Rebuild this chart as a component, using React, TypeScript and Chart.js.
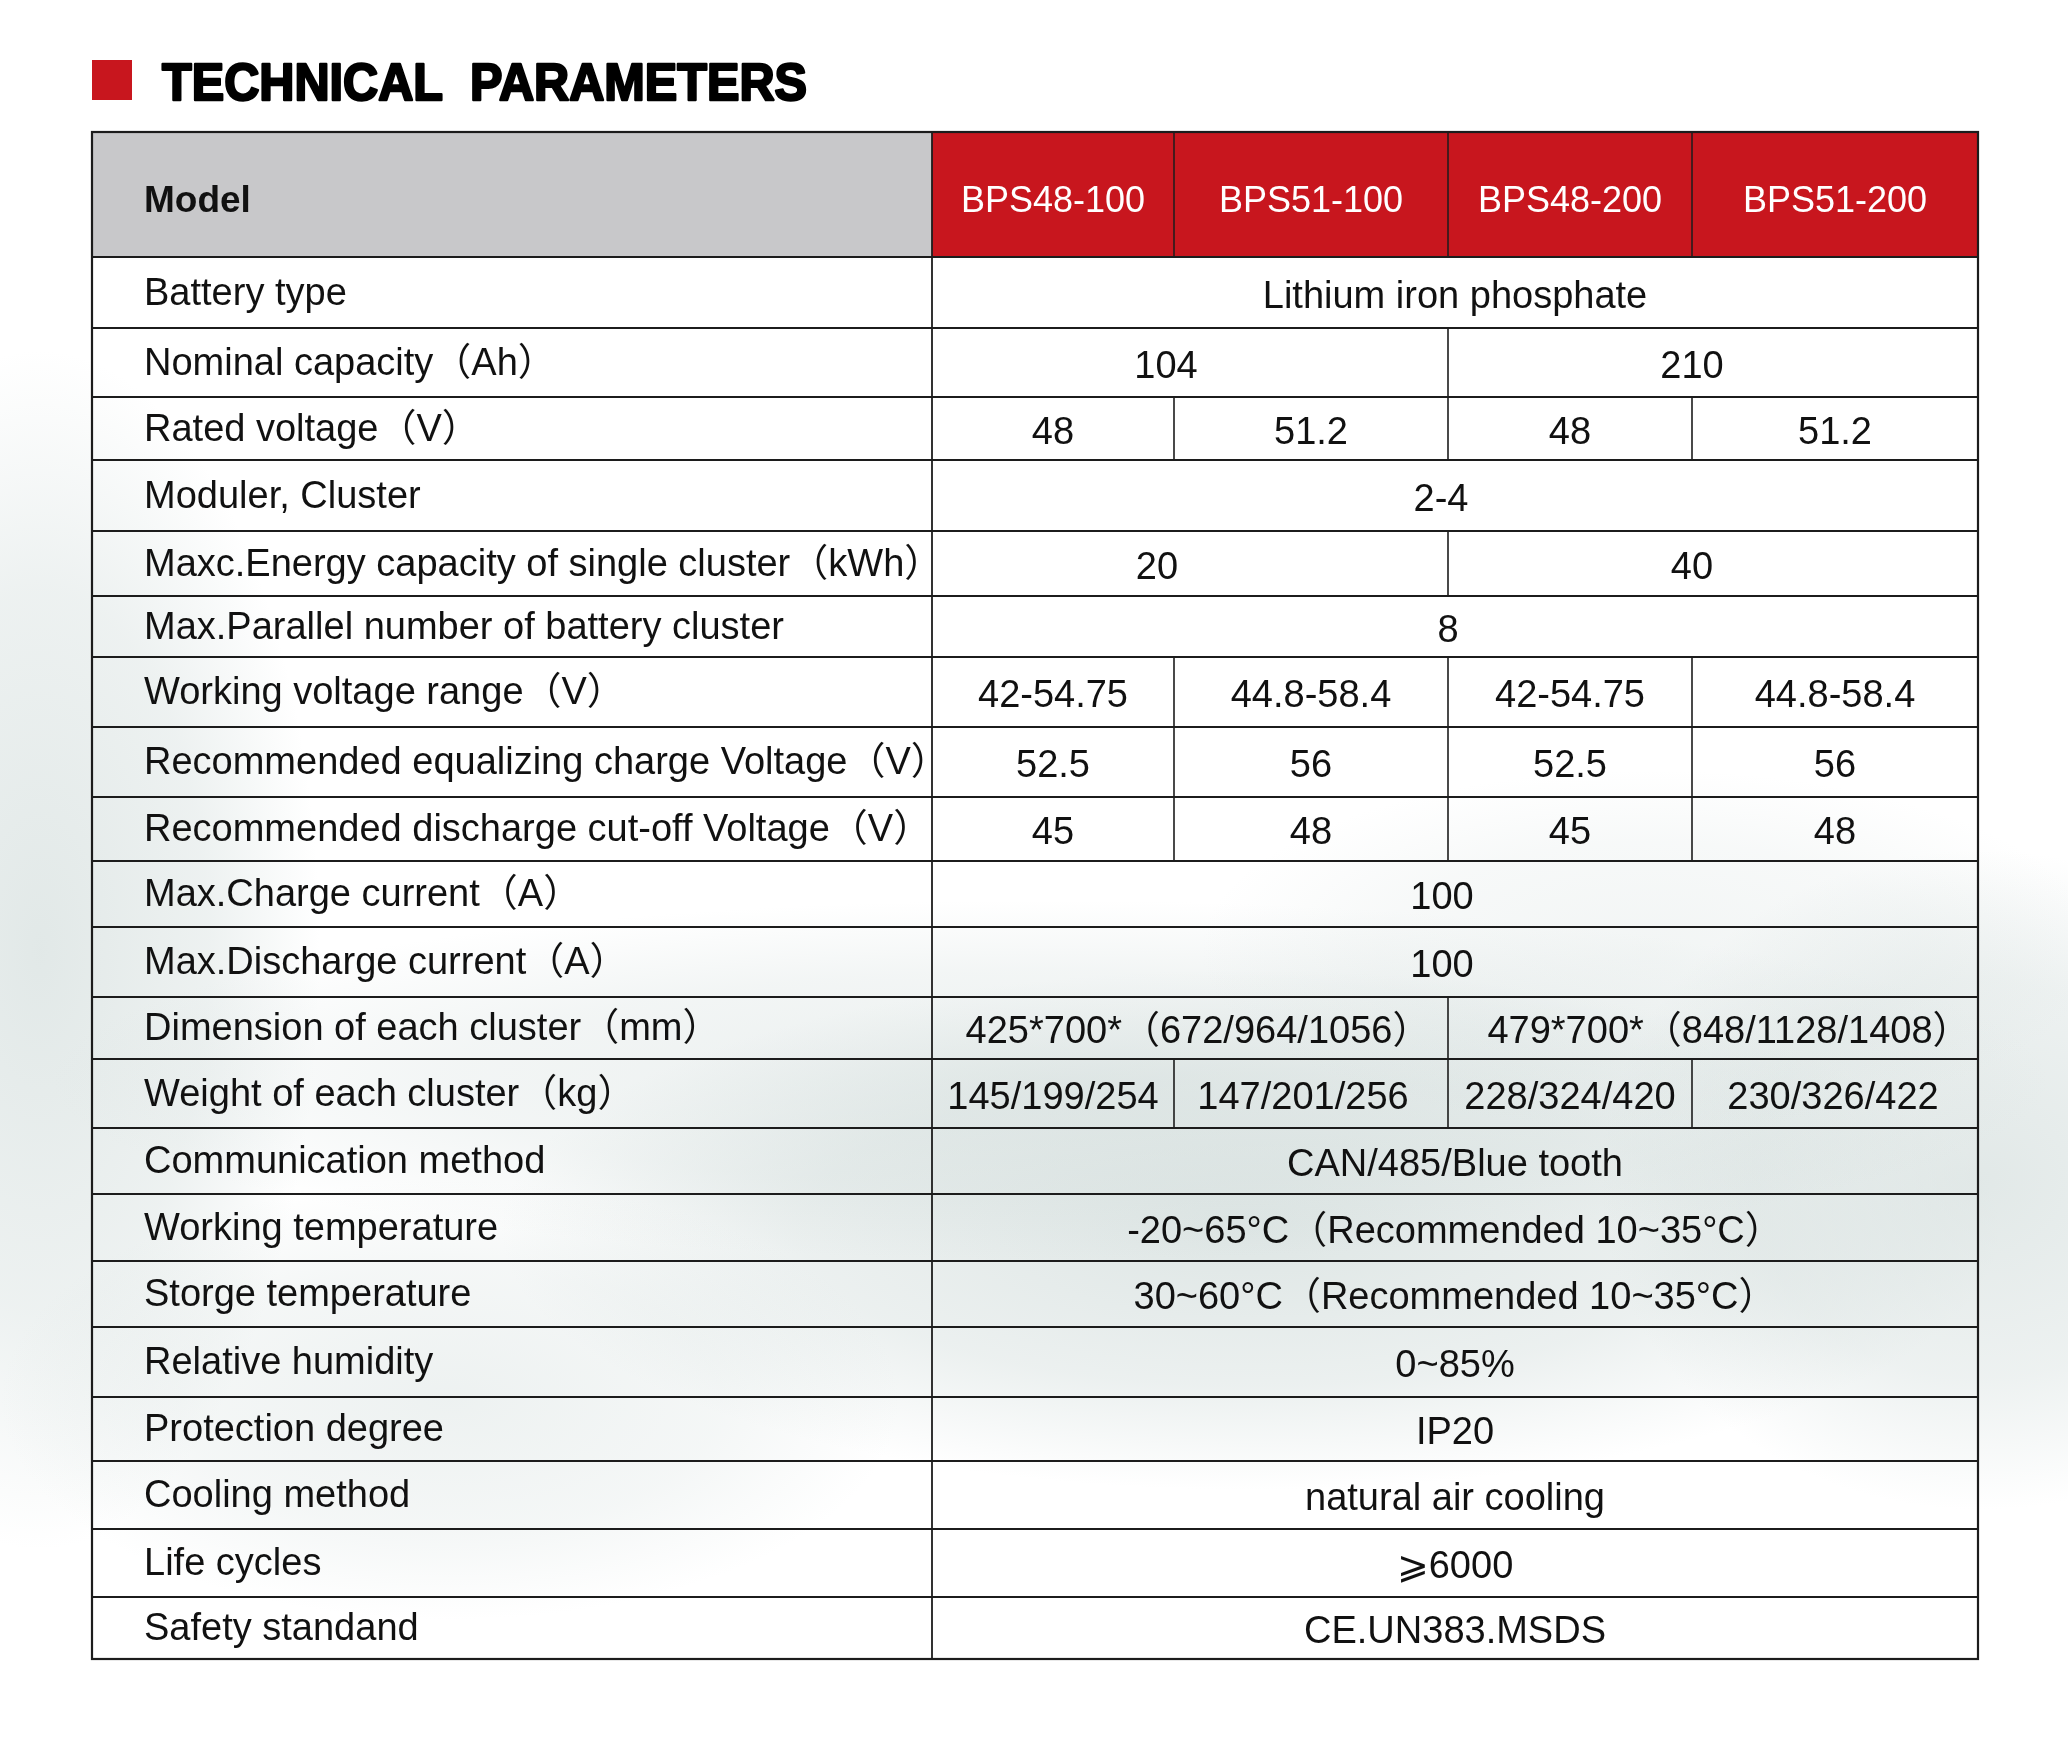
import React, { useEffect, useRef } from "react";
import { Chart, registerables } from "chart.js";

Chart.register(...registerables);

// ---------- content ----------
const titleText = "TECHNICAL  PARAMETERS";
const headerLabel = "Model";
const models = ["BPS48-100", "BPS51-100", "BPS48-200", "BPS51-200"];

const paramLabels = [
  "Battery type",
  "Nominal capacity（Ah）",
  "Rated voltage（V）",
  "Moduler, Cluster",
  "Maxc.Energy capacity of single cluster（kWh）",
  "Max.Parallel number of battery cluster",
  "Working voltage range（V）",
  "Recommended equalizing charge Voltage（V）",
  "Recommended discharge cut-off Voltage（V）",
  "Max.Charge current（A）",
  "Max.Discharge current（A）",
  "Dimension of each cluster（mm）",
  "Weight of each cluster（kg）",
  "Communication method",
  "Working temperature",
  "Storge temperature",
  "Relative humidity",
  "Protection degree",
  "Cooling method",
  "Life cycles",
  "Safety standand",
];

// one entry per row; 1 value spans all 4 models, 2 values span 2 each, 4 values one each
const paramValues: string[][] = [
  ["Lithium iron phosphate"],
  ["104", "210"],
  ["48", "51.2", "48", "51.2"],
  ["2-4"],
  ["20", "40"],
  ["8"],
  ["42-54.75", "44.8-58.4", "42-54.75", "44.8-58.4"],
  ["52.5", "56", "52.5", "56"],
  ["45", "48", "45", "48"],
  ["100"],
  ["100"],
  ["425*700*（672/964/1056）", "479*700*（848/1128/1408）"],
  ["145/199/254", "147/201/256", "228/324/420", "230/326/422"],
  ["CAN/485/Blue tooth"],
  ["-20~65°C（Recommended 10~35°C）"],
  ["30~60°C（Recommended 10~35°C）"],
  ["0~85%"],
  ["IP20"],
  ["natural air cooling"],
  ["⩾6000"],
  ["CE.UN383.MSDS"],
];

// ---------- layout (scale units) ----------
const colWidths = [840, 242, 274, 244, 286];
const headerHeight = 125;
const rowHeights = [71, 69, 63, 71, 65, 61, 70, 70, 64, 66, 70, 62, 69, 66, 67, 66, 70, 64, 68, 68, 62];
// small horizontal text nudges (px) of the original typesetting, by row index
const valueNudges: Record<number, number[]> = {
  1: [-24, -21],
  3: [-14],
  4: [-33, -21],
  5: [-7],
  9: [-13],
  10: [-13],
  11: [8, 16],
  12: [0, -8, 0, -2],
};

const FONT = "'Liberation Sans', Arial, Helvetica, 'Noto Sans CJK SC', sans-serif";
const RED = "#c8161e";
const GRAY = "#c8c8ca";
const INK = "#111111";
const LINE = "#1c1c1c";

function cumulative(arr: number[]) {
  const out = [0];
  arr.forEach((v) => out.push(out[out.length - 1] + v));
  return out;
}

const colEdges = cumulative(colWidths);
const rowEdges = [0, ...cumulative(rowHeights).map((v) => v + headerHeight)];
const totalW = colEdges[colEdges.length - 1];
const totalH = rowEdges[rowEdges.length - 1];

function blob(ctx: CanvasRenderingContext2D, cx: number, cy: number, rx: number, ry: number, rgb: string, a: number) {
  ctx.save();
  ctx.translate(cx, cy);
  ctx.scale(rx, ry);
  const g = ctx.createRadialGradient(0, 0, 0, 0, 0, 1);
  g.addColorStop(0, `rgba(${rgb},${a})`);
  g.addColorStop(0.6, `rgba(${rgb},${a * 0.6})`);
  g.addColorStop(1, `rgba(${rgb},0)`);
  ctx.fillStyle = g;
  ctx.beginPath();
  ctx.arc(0, 0, 1, 0, Math.PI * 2);
  ctx.fill();
  ctx.restore();
}

const tablePlugin = {
  id: "specTable",
  beforeDraw(chart: any) {
    const { ctx, width, height, chartArea } = chart;
    ctx.save();
    ctx.fillStyle = "#ffffff";
    ctx.fillRect(0, 0, width, height);
    // misty watermark background
    const c = "196,210,208";
    blob(ctx, 40, 950, 280, 600, c, 0.5);
    blob(ctx, 1250, 1230, 750, 260, c, 0.55);
    blob(ctx, 1980, 1180, 380, 330, c, 0.5);
    blob(ctx, 1050, 1080, 1000, 180, c, 0.35);
    blob(ctx, 450, 1400, 450, 220, c, 0.3);
    blob(ctx, 1650, 950, 450, 180, c, 0.22);

    // title marker + title
    const left = chartArea.left;
    ctx.fillStyle = RED;
    ctx.fillRect(left, 60, 40, 40);
    ctx.font = `bold 52px ${FONT}`;
    ctx.textBaseline = "alphabetic";
    ctx.textAlign = "left";
    const w = ctx.measureText(titleText).width;
    const sx = 645 / w;
    ctx.translate(left + 70, 100);
    ctx.scale(sx, 1);
    ctx.fillStyle = "#000";
    ctx.strokeStyle = "#000";
    ctx.lineWidth = 2.4;
    ctx.lineJoin = "round";
    ctx.fillText(titleText, 0, 0);
    ctx.strokeText(titleText, 0, 0);
    ctx.restore();
  },
  afterDatasetsDraw(chart: any) {
    const { ctx } = chart;
    const xs = chart.scales.x;
    const ys = chart.scales.y;
    const X = (v: number) => xs.getPixelForValue(v);
    const Y = (v: number) => ys.getPixelForValue(v);
    const nCols = models.length;

    ctx.save();
    // header fills
    ctx.fillStyle = GRAY;
    ctx.fillRect(X(0), Y(0), X(colEdges[1]) - X(0), Y(headerHeight) - Y(0));
    ctx.fillStyle = RED;
    ctx.fillRect(X(colEdges[1]), Y(0), X(totalW) - X(colEdges[1]), Y(headerHeight) - Y(0));

    const hline = (y: number, lw: number) => {
      ctx.lineWidth = lw;
      ctx.beginPath();
      ctx.moveTo(X(0), Y(y));
      ctx.lineTo(X(totalW), Y(y));
      ctx.stroke();
    };
    const vline = (x: number, y0: number, y1: number, lw: number) => {
      ctx.lineWidth = lw;
      ctx.beginPath();
      ctx.moveTo(X(x), Y(y0));
      ctx.lineTo(X(x), Y(y1));
      ctx.stroke();
    };

    ctx.strokeStyle = LINE;
    // header text
    const mid = (a: number, b: number) => (Y(a) + Y(b)) / 2;
    ctx.textBaseline = "alphabetic";
    ctx.fillStyle = INK;
    ctx.font = `bold 37px ${FONT}`;
    ctx.textAlign = "left";
    ctx.fillText(headerLabel, X(0) + 52, mid(0, headerHeight) + 17);
    ctx.font = `36px ${FONT}`;
    ctx.textAlign = "center";
    ctx.fillStyle = "#ffffff";
    models.forEach((m, i) => {
      const cx = (X(colEdges[i + 1]) + X(colEdges[i + 2])) / 2;
      ctx.fillText(m, cx, mid(0, headerHeight) + 17);
    });
    for (let i = 2; i <= nCols; i++) vline(colEdges[i], 0, headerHeight, 1.5);

    // rows
    paramLabels.forEach((label, r) => {
      const y0 = rowEdges[r + 1];
      const y1 = rowEdges[r + 2];
      const cy = mid(y0, y1);
      ctx.fillStyle = INK;
      ctx.font = `38px ${FONT}`;
      ctx.textAlign = "left";
      ctx.fillText(label, X(0) + 52, cy + 12);

      const vals = paramValues[r];
      const span = nCols / vals.length;
      const nudges = valueNudges[r] || [];
      ctx.textAlign = "center";
      vals.forEach((v, k) => {
        const c0 = 1 + k * span;
        const c1 = c0 + span;
        const cx = (X(colEdges[c0]) + X(colEdges[c1])) / 2 + (nudges[k] || 0);
        ctx.fillText(v, cx, cy + 15);
        if (k > 0) vline(colEdges[c0], y0, y1, 1.6);
      });
    });

    // horizontal rules
    for (let r = 1; r < rowEdges.length - 1; r++) hline(rowEdges[r], 2);
    // label / value divider
    vline(colEdges[1], 0, totalH, 1.8);
    // outer border
    ctx.lineWidth = 2.2;
    ctx.strokeRect(X(0), Y(0), X(totalW) - X(0), Y(totalH) - Y(0));
    ctx.restore();
  },
};

export default function App() {
  const ref = useRef<HTMLCanvasElement | null>(null);
  useEffect(() => {
    if (!ref.current) return;
    const chart = new Chart(ref.current, {
      type: "scatter",
      data: { datasets: [{ data: [] }] },
      options: {
        animation: false,
        responsive: false,
        maintainAspectRatio: false,
        devicePixelRatio: 1,
        layout: { padding: { left: 92, right: 90, top: 132, bottom: 85 } },
        plugins: { legend: { display: false }, tooltip: { enabled: false }, title: { display: false } },
        scales: {
          x: { type: "linear", display: false, min: 0, max: totalW },
          y: { type: "linear", display: false, reverse: true, min: 0, max: totalH },
        },
      },
      plugins: [tablePlugin],
    } as any);
    return () => chart.destroy();
  }, []);
  return (
    <div style={{ position: "absolute", left: 0, top: 0, width: 2068, height: 1744 }}>
      <canvas ref={ref} width={2068} height={1744} style={{ display: "block" }} />
    </div>
  );
}
